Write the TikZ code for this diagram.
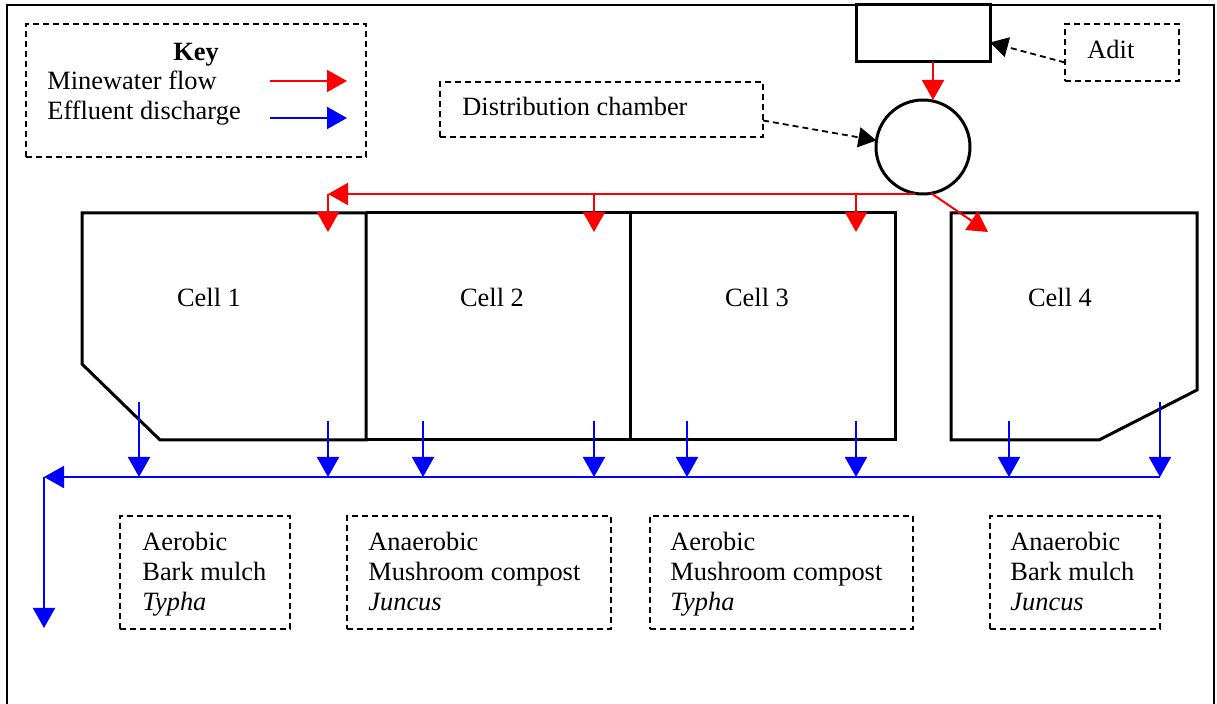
\documentclass[tikz,border=0pt]{standalone}
\usepackage{fontspec}
\setmainfont{Liberation Serif}
\usetikzlibrary{arrows.meta}
\begin{document}
\begin{tikzpicture}[x=0.5pt,y=-0.5pt,
  font=\fontsize{13.2pt}{15pt}\selectfont,
  frameline/.style={line width=1pt},
  cellline/.style={line width=1.5pt, line join=miter},
  dashbox/.style={draw, line width=0.9pt, dash pattern=on 3pt off 2pt, inner sep=0pt, outer sep=0pt},
  solidbox/.style={draw, line width=1.5pt, inner sep=0pt, outer sep=0pt},
  tip/.style={-{Triangle[length=10pt,width=11pt]}},
  redarrow/.style={draw=red, line width=1pt, tip, color=red},
  bluearrow/.style={draw=blue, line width=1pt, tip, color=blue},
  dasharrow/.style={line width=0.9pt, dash pattern=on 3pt off 2pt, -{Triangle[length=9pt,width=10pt]}},
  lbl/.style={anchor=base west, inner sep=0pt},
]
\useasboundingbox (0,0) rectangle (1217,704);
% outer frame (open at the bottom)
\draw[frameline] (7,704) -- (7,5) -- (1214,5) -- (1214,704);

% key
\node[dashbox, minimum width=170pt, minimum height=66.5pt] (key) at (196,90.5) {};
\node[anchor=base, inner sep=0pt, font=\fontsize{13.2pt}{15pt}\selectfont\bfseries] (keytitle) at (196,61) {Key};
\node[lbl] (keymw) at (47,90) {Minewater flow};
\node[lbl] (keyef) at (47,120) {Effluent discharge};
\coordinate (kr1) at (270,81); \coordinate (kr2) at (347,81);
\coordinate (kb1) at (270,118); \coordinate (kb2) at (347,118);
\draw[redarrow] (kr1) -- (kr2);
\draw[bluearrow] (kb1) -- (kb2);

% source box, adit, distribution chamber
\node[solidbox, minimum width=67pt, minimum height=28.5pt] (src) at (923,33.5) {};
\node[dashbox, minimum width=57pt, minimum height=28.5pt] (adit) at (1122,52.5) {};
\node[lbl] (adittext) at (1087,59) {Adit};
\node[dashbox, minimum width=161.5pt, minimum height=27.5pt] (dist) at (601.5,109.5) {};
\node[lbl] (disttext) at (462,116) {Distribution chamber};
\node[draw, circle, line width=1.5pt, minimum size=47pt, inner sep=0pt, outer sep=0pt] (dc) at (923,147) {};

\draw[dasharrow] ([yshift=-5pt]adit.west) -- ([yshift=-4.5pt]src.east);
\draw[dasharrow] ([yshift=-5.5pt]dist.east) -- (dc.172);
\draw[redarrow] ([xshift=5pt]src.south) -- ([xshift=5pt]src.south |- dc.north);

% cells
\coordinate (c1a) at (82,213); \coordinate (c1b) at (366,213);
\coordinate (c1c) at (366,440); \coordinate (c1d) at (160,440);
\coordinate (c1e) at (82,364);
\draw[cellline] (c1a) -- (c1b) -- (c1c) -- (c1d) -- (c1e) -- cycle;
\coordinate (c2b) at (630,213); \coordinate (c2c) at (630,440);
\draw[cellline] (c1b) -- (c2b) -- (c2c) -- (c1c);
\coordinate (c3b) at (895,213); \coordinate (c3c) at (895,440);
\draw[cellline] (c2b) -- (c3b) -- (c3c) -- (c2c);
\coordinate (c4a) at (951,213); \coordinate (c4b) at (1197,213);
\coordinate (c4c) at (1197,390); \coordinate (c4d) at (1099,440);
\coordinate (c4e) at (951,440);
\draw[cellline] (c4a) -- (c4b) -- (c4c) -- (c4d) -- (c4e) -- cycle;

\node (cell1) at (209,297) {Cell 1};
\node (cell2) at (492,297) {Cell 2};
\node (cell3) at (757,297) {Cell 3};
\node (cell4) at (1060,297) {Cell 4};

% minewater distribution
\coordinate (rl) at (328,194);
\coordinate (r2) at (594,194);
\coordinate (r3) at (856,194);
\coordinate (i1) at (328,232);
\coordinate (i2) at (594,232);
\coordinate (i3) at (856,232);
\coordinate (i4) at (988,232);
\draw[redarrow] ([xshift=-4pt]dc.south) -- (rl);
\draw[redarrow] (rl) -- (i1);
\draw[redarrow] (r2) -- (i2);
\draw[redarrow] (r3) -- (i3);
\draw[redarrow] (dc.-80) -- (i4);

% effluent collection
\foreach \x/\y [count=\i] in {139/402, 328/421, 423/421, 594/421, 687/421, 856/421, 1009/421, 1160/402} {
  \coordinate (o\i) at (\x,\y);
  \coordinate (e\i) at (\x,477);
  \draw[bluearrow] (o\i) -- (e\i);
}
\coordinate (eout) at (44,477);
\coordinate (efinal) at (44,628);
\draw[bluearrow] (e8) -- (eout);
\draw[bluearrow] (eout) -- (efinal);

% labels
\node[dashbox, minimum width=85pt, minimum height=56.5pt, anchor=north west] (lab1) at (120,516) {};
\node[lbl] at (142,551) {Aerobic};
\node[lbl] at (142,581) {Bark mulch};
\node[lbl] at (142,611) {\itshape Typha};

\node[dashbox, minimum width=132pt, minimum height=56.5pt, anchor=north west] (lab2) at (347,516) {};
\node[lbl] at (368,551) {Anaerobic};
\node[lbl] at (368,581) {Mushroom compost};
\node[lbl] at (368,611) {\itshape Juncus};

\node[dashbox, minimum width=131.5pt, minimum height=56.5pt, anchor=north west] (lab3) at (650,516) {};
\node[lbl] at (670,551) {Aerobic};
\node[lbl] at (670,581) {Mushroom compost};
\node[lbl] at (670,611) {\itshape Typha};

\node[dashbox, minimum width=85pt, minimum height=56.5pt, anchor=north west] (lab4) at (990,516) {};
\node[lbl] at (1010,551) {Anaerobic};
\node[lbl] at (1010,581) {Bark mulch};
\node[lbl] at (1010,611) {\itshape Juncus};
\end{tikzpicture}
\end{document}
